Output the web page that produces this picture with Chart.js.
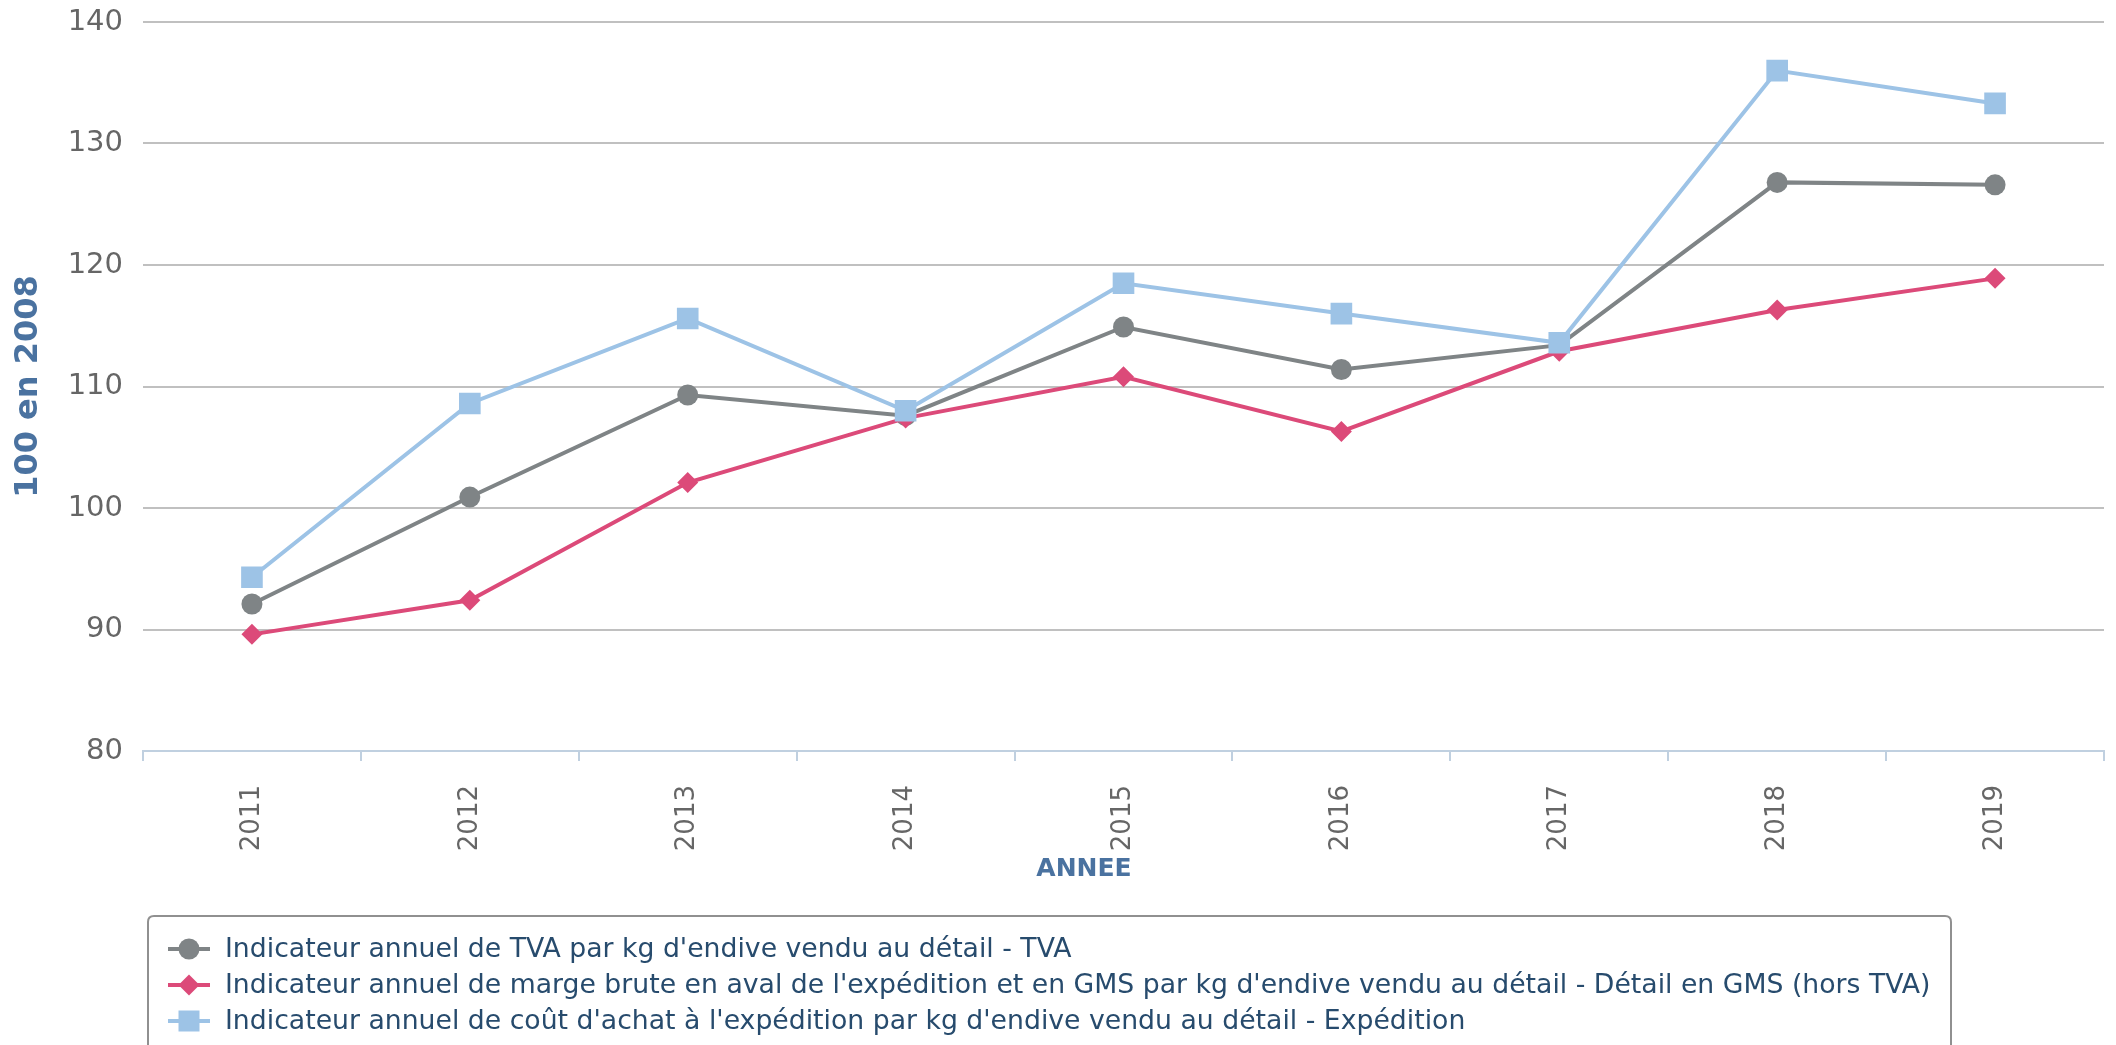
<!DOCTYPE html>
<html lang="fr">
<head>
<meta charset="utf-8">
<title>Indicateurs endive</title>
<script src="https://cdn.jsdelivr.net/npm/chart.js@4/dist/chart.umd.min.js"></script>
<style>
  html, body { margin: 0; padding: 0; background: #fff; }
  #wrap { position: relative; width: 2116px; height: 1045px; }
</style>
</head>
<body>
<div id="wrap"><canvas id="chart"></canvas></div>
<script>
/* ── Data ── */
const years     = ['2011','2012','2013','2014','2015','2016','2017','2018','2019'];
const tvaVals   = [92.1, 100.9, 109.3, 107.6, 114.9, 111.4, 113.4, 126.8, 126.6];
const margeVals = [89.6, 92.4, 102.1, 107.4, 110.8, 106.3, 112.9, 116.3, 118.9];
const expeVals  = [94.3, 108.6, 115.6, 108.0, 118.5, 116.0, 113.6, 136.0, 133.3];
const yTicks    = [80, 90, 100, 110, 120, 130, 140];

const seriesNames = [
  "Indicateur annuel de TVA par kg d'endive vendu au détail - TVA",
  "Indicateur annuel de marge brute en aval de l'expédition et en GMS par kg d'endive vendu au détail - Détail en GMS (hors TVA)",
  "Indicateur annuel de coût d'achat à l'expédition par kg d'endive vendu au détail - Expédition"
];
const xTitle = 'ANNEE';
const yTitle = '100 en 2008';

/* ── Style ── */
const FONT  = "'DejaVu Sans', Verdana, sans-serif";
const GRAY  = '#7f8486';
const PINK  = '#dc4a79';
const BLUE  = '#9dc3e6';
const TITLE = '#4a72a0';

function ds(label, data, color, style, radius, order) {
  return { label, data, borderColor: color, backgroundColor: color, borderWidth: 4,
    pointStyle: style, pointRadius: radius, pointHoverRadius: radius, pointBorderWidth: 0,
    pointBackgroundColor: color, tension: 0, fill: false, order };
}

/* ── Legend (boxed) + x title, drawn on top ── */
const boxLegend = {
  id: 'boxLegend',
  afterDraw(chart) {
    const ctx = chart.ctx;
    ctx.save();
    // x axis title sits a bit left of the plot centre in the original
    ctx.fillStyle = TITLE; ctx.font = 'bold 25px ' + FONT;
    ctx.textAlign = 'center'; ctx.textBaseline = 'middle';
    ctx.fillText(xTitle, 1084, 869);

    const x0 = 148, y0 = 916, x1 = 1951, y1 = 1060, r = 6;
    ctx.beginPath();
    ctx.moveTo(x0 + r, y0); ctx.lineTo(x1 - r, y0); ctx.quadraticCurveTo(x1, y0, x1, y0 + r);
    ctx.lineTo(x1, y1); ctx.lineTo(x0, y1); ctx.lineTo(x0, y0 + r); ctx.quadraticCurveTo(x0, y0, x0 + r, y0);
    ctx.strokeStyle = '#909090'; ctx.lineWidth = 2; ctx.stroke();

    const rows = [949, 985, 1021];
    chart.data.datasets.forEach((d, i) => {
      const cy = rows[i], cx = 189;
      ctx.strokeStyle = d.borderColor; ctx.lineWidth = 4;
      ctx.beginPath(); ctx.moveTo(168, cy); ctx.lineTo(210, cy); ctx.stroke();
      ctx.fillStyle = d.borderColor;
      ctx.beginPath();
      if (d.pointStyle === 'circle') ctx.arc(cx, cy, 10.5, 0, Math.PI * 2);
      else if (d.pointStyle === 'rectRot') { ctx.moveTo(cx, cy - 10.5); ctx.lineTo(cx + 10.5, cy); ctx.lineTo(cx, cy + 10.5); ctx.lineTo(cx - 10.5, cy); ctx.closePath(); }
      else ctx.rect(cx - 10.5, cy - 10.5, 21, 21);
      ctx.fill();
      ctx.fillStyle = '#274b6d'; ctx.font = '26.7px ' + FONT;
      ctx.textAlign = 'left'; ctx.textBaseline = 'middle';
      ctx.fillText(d.label, 225, cy + 1);
    });
    ctx.restore();
  }
};

/* ── Chart ── */
new Chart(document.getElementById('chart'), {
  type: 'line',
  data: {
    labels: years,
    datasets: [
      ds(seriesNames[0], tvaVals,   GRAY, 'circle',  10.5, 3),
      ds(seriesNames[1], margeVals, PINK, 'rectRot', 10.5, 2),
      ds(seriesNames[2], expeVals,  BLUE, 'rect',    15.3, 1)
    ]
  },
  options: {
    responsive: true, maintainAspectRatio: false, animation: false,
    layout: { autoPadding: false, padding: { top: 22, right: 12, bottom: 0, left: 0 } },
    plugins: { legend: { display: false }, tooltip: { enabled: false } },
    scales: {
      x: {
        offset: true,
        afterFit: s => { s.height = 294; s.paddingLeft = 0; s.paddingRight = 0; },
        grid: { offset: true, drawOnChartArea: false, drawTicks: true, tickLength: 10, color: '#c0d0e0', lineWidth: 2 },
        border: { display: true, color: '#c0d0e0', width: 2 },
        ticks: { minRotation: 90, maxRotation: 90, padding: 24, color: '#666', font: { family: FONT, size: 26 } },
        title: { display: false }
      },
      y: {
        min: 80, max: 140,
        afterFit: s => { s.width = 143; s.paddingTop = 0; s.paddingBottom = 0; },
        afterBuildTicks: s => { s.ticks = yTicks.map(v => ({ value: v })); },
        grid: { color: '#c0c0c0', lineWidth: 2, drawTicks: false },
        border: { display: false },
        ticks: { padding: 20, color: '#666', font: { family: FONT, size: 29 } },
        title: { display: true, text: yTitle, color: TITLE, font: { family: FONT, size: 32, weight: 'bold' }, padding: { top: 9, bottom: 0 } }
      }
    }
  },
  plugins: [boxLegend]
});
</script>
</body>
</html>
